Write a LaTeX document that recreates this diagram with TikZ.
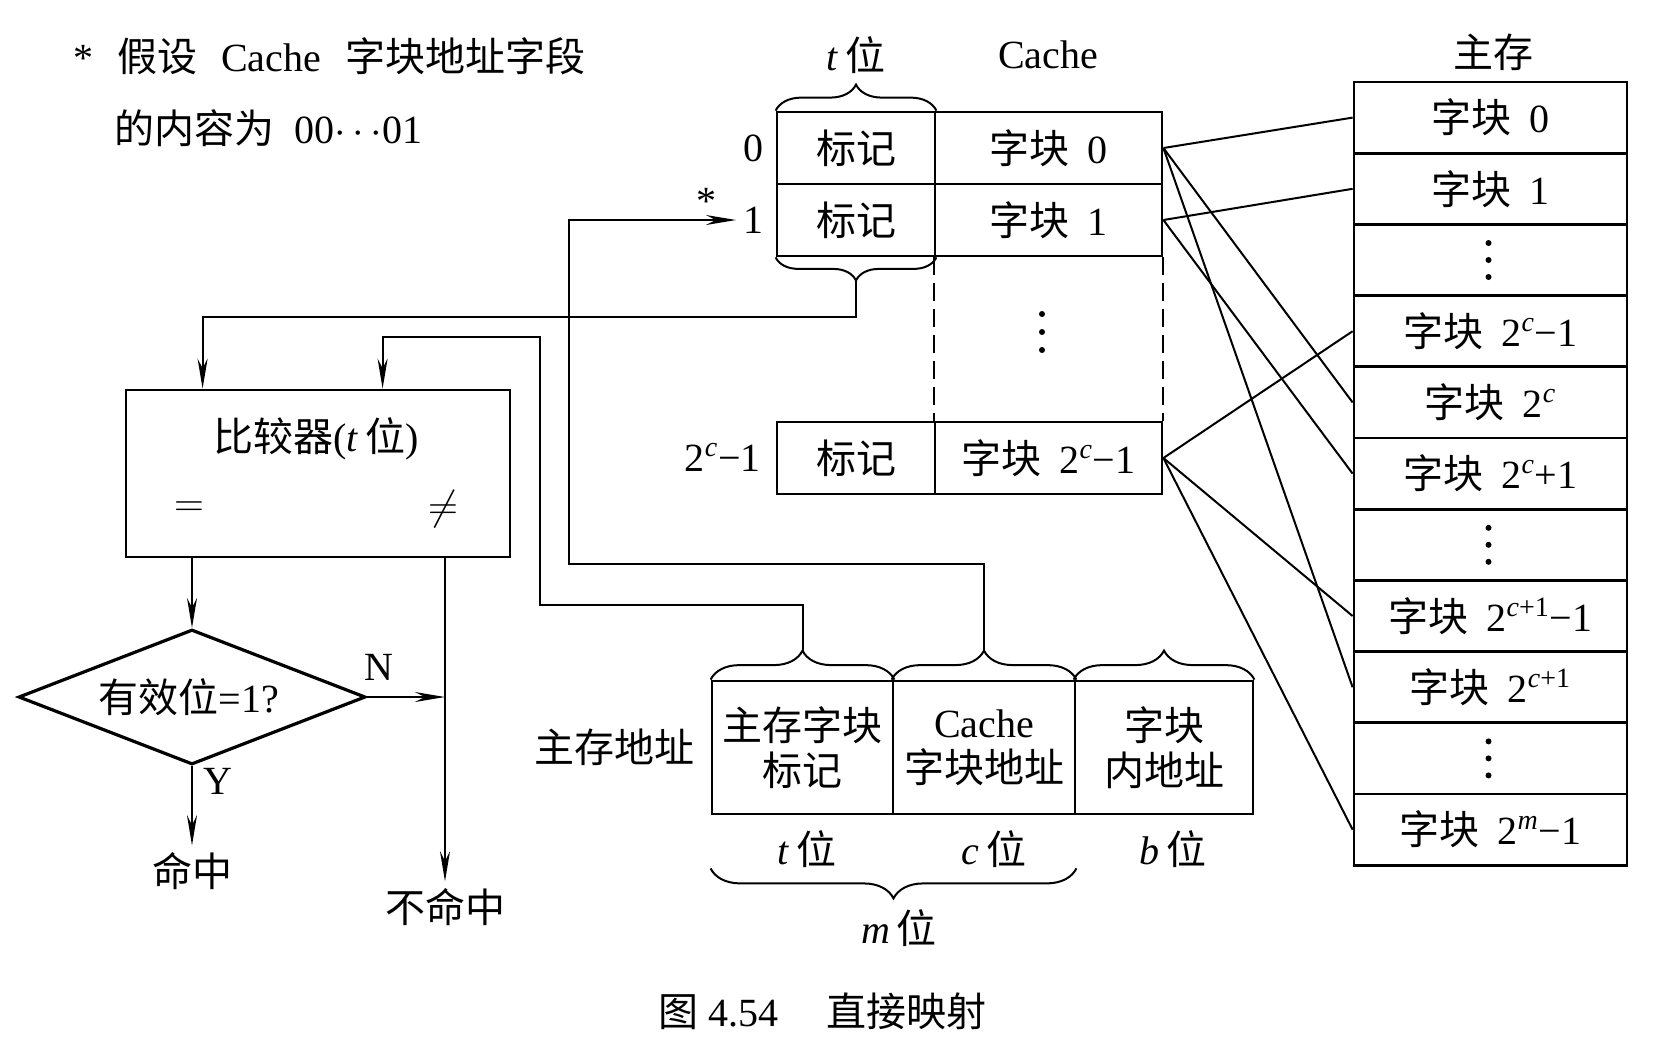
\documentclass[tikz,border=0pt]{standalone}
\usepackage{fontspec}
\setmainfont{Liberation Serif}
\newfontfamily\cjk{Noto Sans CJK SC}
\usepackage{tikz}
\usetikzlibrary{shapes,arrows.meta,positioning,calc,decorations.pathreplacing}
\newcommand{\zh}[1]{{\cjk #1}}
\newcommand{\zk}[1]{\zh{字块}\hspace{0.45em}#1}

\begin{document}
\begin{tikzpicture}[x=0.5pt,y=-0.5pt,
    font=\fontsize{20}{23}\selectfont,
    box/.style={draw,line width=1.4pt,inner sep=0pt,minimum height=36pt},
    memcell/.style={draw,line width=1.4pt,inner sep=0pt,minimum width=136.5pt,minimum height=35.6pt},
    field/.style={draw,line width=1.4pt,inner sep=0pt,minimum height=66.5pt,align=center,
        font=\fontsize{20}{22.5}\selectfont},
    wire/.style={line width=1pt},
    arr/.style={-{Stealth[length=15pt,width=5pt]},line width=1pt},
    brc/.style={decorate,decoration={brace,amplitude=#1},line width=1pt},
    brcm/.style={decorate,decoration={brace,mirror,amplitude=#1},line width=1pt}]
    \useasboundingbox (0,0) rectangle (1676,1041);

    % Note
    \node[anchor=west] (note0) at (66,56) {*\hspace{0.6em}\zh{假设}\hspace{0.6em}Cache\hspace{0.6em}\zh{字块地址字段}};
    \node[anchor=west] (note1) at (107,128) {\zh{的内容为}\hspace{0.5em}00$\cdots$01};

    % Cache
    \node (tpos) at (856,55) {\textit{t}\,\zh{位}};
    \node (cachelbl) at (1048,55) {Cache};
    \node[box,minimum width=79pt] (tag0) at (856,148) {\zh{标记}};
    \node[box,minimum width=113.5pt] (dat0) at (1048.5,148) {\zk{0}};
    \node[box,minimum width=79pt] (tag1) at (856,220) {\zh{标记}};
    \node[box,minimum width=113.5pt] (dat1) at (1048.5,220) {\zk{1}};
    \node[box,minimum width=79pt] (tagL) at (856,458) {\zh{标记}};
    \node[box,minimum width=113.5pt] (datL) at (1048.5,458) {\zk{2\textsuperscript{\textit{c}}−1}};
    \draw[line width=1pt,dash pattern=on 9pt off 4pt] (dat1.south west) -- (datL.north west);
    \draw[line width=1pt,dash pattern=on 9pt off 4pt] (dat1.south east) -- (datL.north east);
    \foreach \d in {-18,0,18}
        \fill (1042,332+\d) circle (1.5pt);
    \node (lbl0) at (753,148) {0};
    \node (lbl1) at (753,220) {1};
    \node[anchor=east] (lblL) at (768,457) {2\textsuperscript{\textit{c}}−1};
    \node (star) at (706,201) {*};
    \draw[brc=13pt] (tag0.north west) -- (tag0.north east);
    \draw[brcm=11.5pt] (tag1.south west) -- (tag1.south east);
    \coordinate (tagtip) at ($(tag1.south)+(0,23)$);

    % Main memory
    \node (memlbl) at (1493,52) {\zh{主存}};
    \foreach \i/\txt in {0/{\zk{0}},1/{\zk{1}},2/{},3/{\zk{2\textsuperscript{\textit{c}}−1}},
        4/{\zk{2\textsuperscript{\textit{c}}}},5/{\zk{2\textsuperscript{\textit{c}}+1}},6/{},
        7/{\zk{2\textsuperscript{\textit{c}+1}−1}},8/{\zk{2\textsuperscript{\textit{c}+1}}},9/{},
        10/{\zk{2\textsuperscript{\textit{m}}−1}}}
        \node[memcell] (m\i) at (1490.5,{117.6+71.2*\i}) {\txt};
    \foreach \i in {2,6,9}
        \foreach \d in {-17,0,17}
            \fill ($(m\i.center)+(-2,\d)$) circle (1.5pt);

    % Mapping
    \foreach \s/\t in {dat0/m0,dat0/m4,dat0/m8,dat1/m1,dat1/m5,datL/m3,datL/m7,datL/m10}
        \draw[wire] (\s.east) -- (\t.west);

    % Main memory address
    \node (addr) at (614,747) {\zh{主存地址}};
    \node[field,minimum width=90.5pt] (fTag) at (802.5,747.5) {\zh{主存字块}\\\zh{标记}};
    \node[field,minimum width=91pt] (fIdx) at (984,747.5) {Cache\\\zh{字块地址}};
    \node[field,minimum width=89pt] (fOff) at (1164,747.5) {\zh{字块}\\\zh{内地址}};
    \draw[brc=14.5pt] (fTag.north west) -- (fTag.north east);
    \draw[brc=14.5pt] (fIdx.north west) -- (fIdx.north east);
    \draw[brc=14.5pt] (fOff.north west) -- (fOff.north east);
    \coordinate (ftip) at ($(fTag.north)+(0,-29)$);
    \coordinate (itip) at ($(fIdx.north)+(0,-29)$);
    \node (bitsT) at (807,849) {\textit{t}\,\zh{位}};
    \node (bitsC) at (994,849) {\textit{c}\,\zh{位}};
    \node (bitsB) at (1173,849) {\textit{b}\,\zh{位}};
    \draw[brcm=15pt] ($(fTag.south west)+(0,53)$) -- ($(fIdx.south east)+(0,53)$);
    \node (bitsM) at (899,928) {\textit{m}\,\zh{位}};

    % Comparator and valid bit
    \node[draw,line width=1.4pt,minimum width=192pt,minimum height=83.5pt] (cmp) at (318,473.5) {};
    \node (cmptxt) at (316,439) {\zh{比较器}(\textit{t}\,\zh{位})};
    \node (eqs) at (189,509) {$=$};
    \node (neq) at (443,509) {$\neq$};
    \node[diamond,draw,line width=1.6pt,inner sep=0pt,minimum width=173.5pt,minimum height=67.5pt] (valid) at (192,697) {};
    \node (validtxt) at (189,697) {\zh{有效位}=1?};
    \node (lblN) at (379,667) {N};
    \node (lblY) at (218,781) {Y};
    \node (hit) at (192,871) {\zh{命中}};
    \node (miss) at (445,907) {\zh{不命中}};

    % Wires
    \draw[arr] (tagtip) -- ++(0,37) -| ($(cmp.north west)+(78,0)$);
    \draw[arr] (itip) |- (569,564) |- (lbl1.west);
    \draw[arr] (ftip) |- (540,605) |- ($(cmp.north west)+(258,-52)$) -- ($(cmp.north west)+(258,0)$);
    \draw[arr] (cmp.south -| valid.north) -- (valid.north);
    \draw[arr] (cmp.south -| miss.north) -- (miss.north);
    \draw[arr] (valid.east) -- (valid.east -| miss.north);
    \draw[arr] (valid.south) -- (hit.north);

    % Caption
    \node (cap) at (822,1011) {\zh{图}~4.54\hspace{1.2em}\zh{直接映射}};
\end{tikzpicture}
\end{document}
